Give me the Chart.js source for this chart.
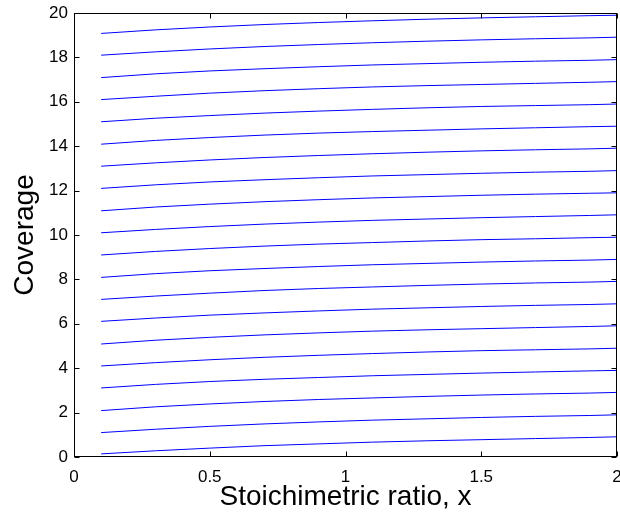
<!DOCTYPE html>
<html>
<head>
<meta charset="utf-8">
<script src="https://cdn.jsdelivr.net/npm/chart.js@4/dist/chart.umd.min.js"></script>
<style>
  html, body { margin: 0; padding: 0; background: #fff; }
  #wrap { width: 620px; height: 514px; }
</style>
</head>
<body>
<div id="wrap"><canvas id="chart" width="620" height="514"></canvas></div>
<script>
// x positions of the samples (stoichimetric ratio)
var ratio = [0.1, 0.3, 0.5, 0.7, 0.9, 1.1, 1.3, 1.5, 1.7, 1.9, 2.0];

// one coverage curve per layer
var cov0  = [0.14, 0.28, 0.40, 0.51, 0.59, 0.67, 0.73, 0.78, 0.83, 0.88, 0.91];
var cov1  = [1.10, 1.25, 1.38, 1.49, 1.58, 1.66, 1.72, 1.78, 1.83, 1.87, 1.90];
var cov2  = [2.09, 2.26, 2.39, 2.50, 2.59, 2.66, 2.73, 2.79, 2.84, 2.88, 2.91];
var cov3  = [3.11, 3.27, 3.40, 3.50, 3.58, 3.66, 3.72, 3.78, 3.83, 3.88, 3.90];
var cov4  = [4.10, 4.25, 4.38, 4.49, 4.58, 4.66, 4.73, 4.79, 4.83, 4.87, 4.90];
var cov5  = [5.09, 5.26, 5.39, 5.50, 5.59, 5.67, 5.73, 5.78, 5.83, 5.88, 5.91];
var cov6  = [6.11, 6.26, 6.39, 6.49, 6.58, 6.66, 6.72, 6.78, 6.83, 6.87, 6.90];
var cov7  = [7.10, 7.25, 7.38, 7.50, 7.59, 7.66, 7.73, 7.79, 7.84, 7.88, 7.91];
var cov8  = [8.09, 8.26, 8.39, 8.49, 8.58, 8.66, 8.72, 8.78, 8.83, 8.87, 8.90];
var cov9  = [9.10, 9.26, 9.39, 9.50, 9.59, 9.66, 9.73, 9.79, 9.83, 9.88, 9.90];
var cov10 = [10.10, 10.25, 10.38, 10.49, 10.58, 10.66, 10.72, 10.78, 10.83, 10.88, 10.91];
var cov11 = [11.09, 11.26, 11.39, 11.50, 11.59, 11.67, 11.73, 11.79, 11.84, 11.88, 11.90];
var cov12 = [12.10, 12.26, 12.39, 12.49, 12.58, 12.66, 12.72, 12.78, 12.83, 12.87, 12.90];
var cov13 = [13.10, 13.25, 13.38, 13.49, 13.58, 13.66, 13.73, 13.79, 13.84, 13.88, 13.91];
var cov14 = [14.09, 14.26, 14.39, 14.50, 14.59, 14.66, 14.72, 14.78, 14.83, 14.88, 14.90];
var cov15 = [15.10, 15.26, 15.38, 15.49, 15.58, 15.66, 15.73, 15.79, 15.83, 15.87, 15.90];
var cov16 = [16.10, 16.25, 16.39, 16.50, 16.59, 16.67, 16.73, 16.78, 16.83, 16.88, 16.91];
var cov17 = [17.09, 17.26, 17.39, 17.49, 17.58, 17.66, 17.72, 17.78, 17.83, 17.87, 17.90];
var cov18 = [18.10, 18.25, 18.38, 18.49, 18.58, 18.66, 18.73, 18.79, 18.84, 18.88, 18.91];
var cov19 = [19.08, 19.24, 19.37, 19.48, 19.57, 19.65, 19.72, 19.78, 19.83, 19.88, 19.90];

var curves = [cov0, cov1, cov2, cov3, cov4, cov5, cov6, cov7, cov8, cov9,
              cov10, cov11, cov12, cov13, cov14, cov15, cov16, cov17, cov18, cov19];

// axis ticks
var xTicks = [0, 0.5, 1, 1.5, 2];
var yTicks = [0, 2, 4, 6, 8, 10, 12, 14, 16, 18, 20];

var FONT = "'Liberation Sans', Arial, sans-serif";

function buildDatasets(){
  var sets = [];
  for(var i = 0; i < curves.length; i++){
    var pts = [];
    for(var j = 0; j < ratio.length; j++){
      pts.push({x: ratio[j], y: curves[i][j]});
    }
    sets.push({
      data: pts,
      borderColor: '#0000ff',
      borderWidth: 1,
      pointRadius: 0,
      tension: 0,
      fill: false
    });
  }
  return sets;
}

// matlab style box with inward ticks
var boxPlugin = {
  id: 'box',
  afterDatasetsDraw: function(chart){
    var ctx = chart.ctx, a = chart.chartArea;
    var xs = chart.scales.x, ys = chart.scales.y;
    var L = Math.round(a.left) + 0.5, R = Math.round(a.right) - 0.5;
    var T = Math.round(a.top) + 0.5, B = Math.round(a.bottom) - 0.5;
    var len = 5;
    ctx.save();
    ctx.strokeStyle = '#000';
    ctx.lineWidth = 1;
    ctx.beginPath();
    xTicks.forEach(function(v){
      var px = Math.round(xs.getPixelForValue(v)) + 0.5;
      ctx.moveTo(px, B); ctx.lineTo(px, B - len);
      ctx.moveTo(px, T); ctx.lineTo(px, T + len);
    });
    yTicks.forEach(function(v){
      var py = Math.round(ys.getPixelForValue(v)) + 0.5;
      ctx.moveTo(L, py); ctx.lineTo(L + len, py);
      ctx.moveTo(R, py); ctx.lineTo(R - len, py);
    });
    ctx.stroke();
    ctx.strokeRect(L, T, R - L, B - T);
    ctx.restore();
  }
};

new Chart(document.getElementById('chart'), {
  type: 'line',
  data: { datasets: buildDatasets() },
  options: {
    responsive: false,
    animation: false,
    events: [],
    layout: { padding: { top: 13, right: 3, left: 0, bottom: 0 } },
    plugins: { legend: { display: false }, tooltip: { enabled: false } },
    scales: {
      x: {
        type: 'linear',
        min: 0, max: 2,
        border: { display: false },
        grid: { display: false, drawTicks: false },
        afterBuildTicks: function(s){ s.ticks = xTicks.map(function(v){ return {value: v}; }); },
        ticks: {
          padding: 10,
          color: '#000',
          maxRotation: 0,
          font: { family: FONT, size: 17 },
          callback: function(v){ return String(v); }
        },
        title: {
          display: true,
          text: 'Stoichimetric ratio, x',
          color: '#000',
          padding: { top: 0, bottom: 0 },
          font: { family: FONT, size: 28 }
        },
        afterFit: function(s){ s.height = 57; s.paddingLeft = 0; s.paddingRight = 0; }
      },
      y: {
        min: 0, max: 20,
        border: { display: false },
        grid: { display: false, drawTicks: false },
        afterBuildTicks: function(s){ s.ticks = yTicks.map(function(v){ return {value: v}; }); },
        ticks: {
          padding: 6,
          color: '#000',
          font: { family: FONT, size: 17 },
          callback: function(v){ return String(v); }
        },
        title: {
          display: true,
          text: 'Coverage',
          color: '#000',
          padding: { top: 8, bottom: 0 },
          font: { family: FONT, size: 28 }
        },
        afterFit: function(s){ s.width = 74; s.paddingTop = 0; s.paddingBottom = 0; }
      }
    }
  },
  plugins: [boxPlugin]
});
</script>
</body>
</html>
